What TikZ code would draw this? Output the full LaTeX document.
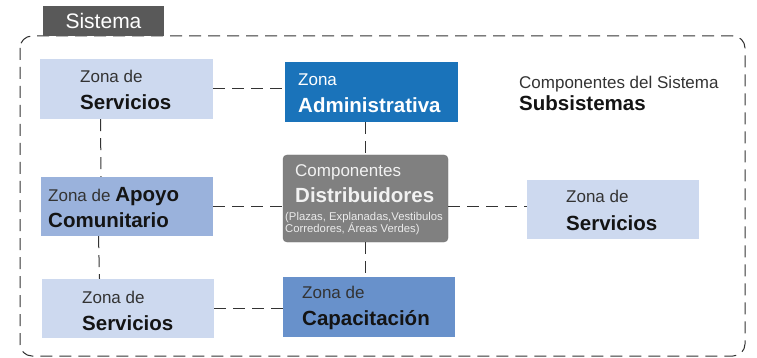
\documentclass[tikz,border=0pt]{standalone}
\usepackage{fontspec}
\setmainfont{Liberation Sans}
\usepackage{xcolor}
\usetikzlibrary{calc}
\definecolor{zlight}{HTML}{CDD9EF}
\definecolor{zmid}{HTML}{9AB2DC}
\definecolor{zcap}{HTML}{6891CB}
\definecolor{zadm}{HTML}{1A73BA}
\definecolor{zgray}{HTML}{808080}
\definecolor{tabgray}{HTML}{595959}
\definecolor{txtgray}{HTML}{333333}
\definecolor{txtdark}{HTML}{141414}
\definecolor{linegray}{HTML}{333333}
\tikzset{
  zone/.style    = {draw=none, inner sep=0pt, minimum width=173pt, minimum height=60pt},
  hub/.style     = {draw=black!55, fill=zgray, rounded corners=4pt, inner sep=0pt, line width=0.4pt},
  tabbox/.style  = {fill=tabgray, text=white, inner sep=0pt, font=\fontsize{21}{24}\selectfont},
  frame/.style   = {draw=linegray, line width=1pt, dash pattern=on 12pt off 7pt, rounded corners=12pt},
  link/.style    = {draw=linegray, line width=1pt, dash pattern=on 12pt off 7pt},
  lbl/.style     = {font=\fontsize{17}{20}\selectfont, anchor=base west, inner sep=0pt, text=txtgray},
  big/.style     = {font=\fontsize{20.5}{24}\selectfont\bfseries, anchor=base west, inner sep=0pt, text=txtdark},
  note/.style    = {font=\fontsize{11.3}{13}\selectfont, anchor=base west, inner sep=0pt, text=black!8},
}
\newcommand{\bigpart}[1]{{\fontsize{20.5}{24}\selectfont\bfseries #1}}

\begin{document}
\begin{tikzpicture}[x=1pt,y=-1pt]
  \useasboundingbox (0,0) rectangle (757,358);

  % system frame
  \draw[frame] (20,36) rectangle (745,356);
  \node[tabbox, minimum width=121pt, minimum height=30pt] (tab) at (103.5,21) {Sistema};

  % zones
  \node[zone, fill=zlight] (srvA) at (126.5,89) {};
  \node[zone, fill=zadm] (admin) at (371.5,92) {};
  \node[hub, minimum width=165pt, minimum height=87pt] (hub) at (365.5,198.5) {};
  \node[zone, fill=zmid, minimum width=172pt, minimum height=59pt] (apoyo) at (127,206.5) {};
  \node[zone, fill=zlight, minimum width=172pt, minimum height=59pt] (srvC) at (613,209.5) {};
  \node[zone, fill=zlight, minimum width=172pt, minimum height=59pt] (srvB) at (128,308.5) {};
  \node[zone, fill=zcap, minimum width=172pt] (cap) at (369,307) {};

  % connectors
  \draw[link] (srvA.east) -- (srvA.east -| admin.west);
  \draw[link] ([xshift=-26pt]srvA.south) -- ([xshift=-26pt]apoyo.north);
  \draw[link] (admin.south -| hub.north) -- (hub.north);
  \draw[link] (apoyo.east) -- (apoyo.east -| hub.west);
  \draw[link] (apoyo.east -| hub.east) -- (apoyo.east -| srvC.west);
  \draw[link] ([xshift=-28.5pt]apoyo.south) -- ([xshift=-28.5pt]srvB.north);
  \draw[link] (hub.south) -- (hub.south |- cap.north);
  \draw[link] (srvB.east) -- (srvB.east -| cap.west);

  % labels
  \node[lbl] (srvAa) at (80,83) {Zona de};
  \node[big] (srvAb) at (80,110) {Servicios};
  \node[lbl, text=white] (admina) at (298,86) {Zona};
  \node[big, text=white] (adminb) at (298,113) {Administrativa};
  \node[lbl] (legenda) at (519,89) {Componentes del Sistema};
  \node[big] (legendb) at (519,111) {Subsistemas};
  \node[lbl, text=black!5] (huba) at (295,177) {Componentes};
  \node[big, text=black!5] (hubb) at (295,203) {Distribuidores};
  \node[note] (hubc) at (285,220) {(Plazas, Explanadas,Vestibulos};
  \node[note] (hubd) at (285,232) {Corredores, Áreas Verdes)};
  \node[lbl] (apoyoa) at (48,201) {Zona de \bigpart{\color{txtdark}Apoyo}};
  \node[big] (apoyob) at (48,227) {Comunitario};
  \node[lbl] (srvCa) at (566,203) {Zona de};
  \node[big] (srvCb) at (566,230) {Servicios};
  \node[lbl] (srvBa) at (82,303) {Zona de};
  \node[big] (srvBb) at (82,330) {Servicios};
  \node[lbl] (capa) at (302,298) {Zona de};
  \node[big] (capb) at (302,325) {Capacitación};
\end{tikzpicture}
\end{document}
